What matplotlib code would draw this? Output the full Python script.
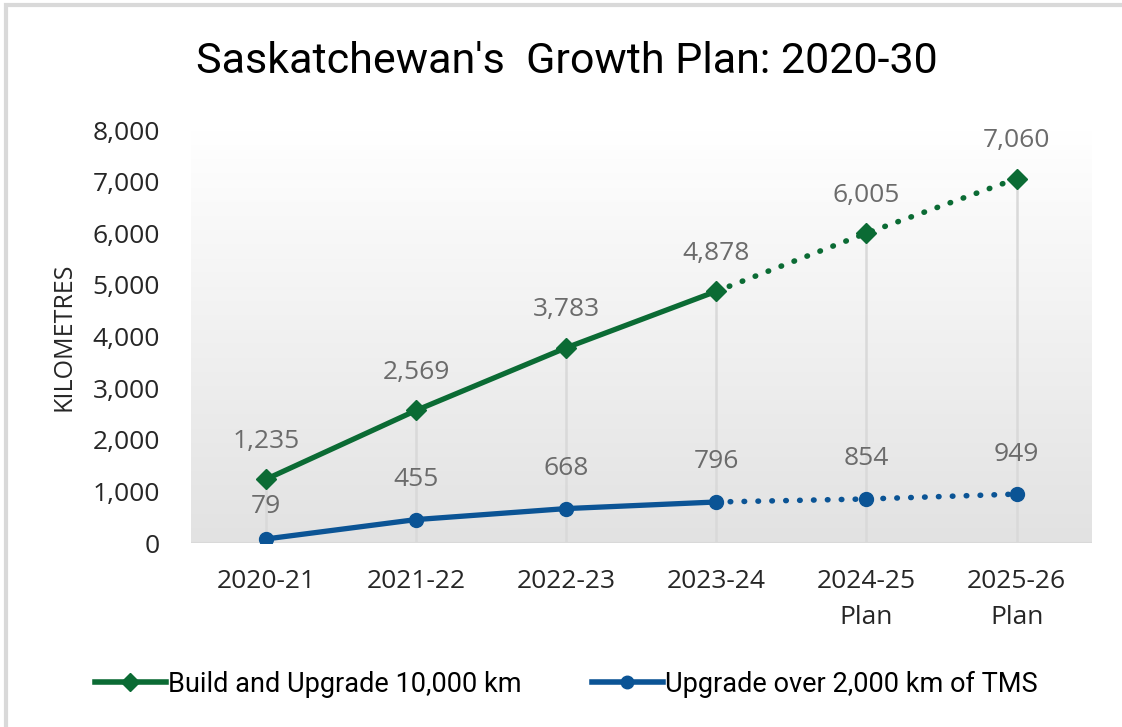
import numpy as np
import matplotlib
matplotlib.use("Agg")
import matplotlib.pyplot as plt
from matplotlib.lines import Line2D
from matplotlib.patches import Rectangle

# data
years = ["2020-21", "2021-22", "2022-23", "2023-24", "2024-25\nPlan", "2025-26\nPlan"]
build_km = [1235, 2569, 3783, 4878, 6005, 7060]
tms_km = [79, 455, 668, 796, 854, 949]
n_actual = 4  # first four are actuals, rest is plan (dotted)

green = "#0b6b34"
blue = "#0b5495"
label_grey = "#6b6b6b"

narrow = ["Roboto", "DejaVu Sans"]
body = ["Open Sans", "DejaVu Sans"]

fig = plt.figure(figsize=(11.22, 7.27), dpi=100)
ax = fig.add_axes([0.170, 0.253, 0.803, 0.568])

# outer chart border
fig.patches.append(Rectangle((0.005, -0.02), 1.1, 1.013, transform=fig.transFigure,
                             fill=False, edgecolor="#d9d9d9", linewidth=3))

x = np.arange(len(years))

# gradient plot background
grad = np.linspace(1, 0, 256).reshape(-1, 1)
ax.imshow(grad, extent=[0, 1, 0, 1], transform=ax.transAxes, aspect="auto",
          cmap=matplotlib.colors.LinearSegmentedColormap.from_list("g", ["#e2e2e2", "#ffffff"]),
          zorder=0)

# drop lines
ax.vlines(x, 0, np.maximum(build_km, tms_km), color="#d9d9d9", linewidth=1.8, zorder=1)

# solid (actual) parts
ax.plot(x[:n_actual], build_km[:n_actual], color=green, lw=3.8, marker="D", ms=10,
        solid_capstyle="round", zorder=3)
ax.plot(x[:n_actual], tms_km[:n_actual], color=blue, lw=3.8, marker="o", ms=10,
        solid_capstyle="round", zorder=3)
# dotted (plan) parts
ax.plot(x[n_actual - 1:], build_km[n_actual - 1:], color=green, lw=4, ls=(0, (0.1, 2.4)),
        dash_capstyle="round", zorder=3)
ax.plot(x[n_actual:], build_km[n_actual:], color=green, lw=0, marker="D", ms=10, zorder=4)
ax.plot(x[n_actual - 1:], tms_km[n_actual - 1:], color=blue, lw=4, ls=(0, (0.1, 2.4)),
        dash_capstyle="round", zorder=3)
ax.plot(x[n_actual:], tms_km[n_actual:], color=blue, lw=0, marker="o", ms=10, zorder=4)

# data labels
for xi, v in zip(x, build_km):
    ax.annotate(f"{v:,}", (xi, v), xytext=(0, 38), textcoords="offset pixels",
                ha="center", va="center", fontsize=19, color=label_grey, family=body)
for i, (xi, v) in enumerate(zip(x, tms_km)):
    off = 32 if i == 0 else 40
    ax.annotate(f"{v:,}", (xi, v), xytext=(0, off), textcoords="offset pixels",
                ha="center", va="center", fontsize=19, color=label_grey, family=body)

ax.set_xlim(-0.5, len(years) - 0.5)
ax.set_ylim(0, 8000)
ax.set_yticks(range(0, 8001, 1000))
ax.set_yticklabels([f"{t:,}" for t in range(0, 8001, 1000)], fontsize=19, family=body,
                   color="#262626")
ax.set_xticks(x)
ax.set_xticklabels(years, fontsize=19, family=body, linespacing=1.55, color="#262626")
ax.tick_params(length=0, pad=12)
ax.tick_params(axis="x", pad=19)
ax.tick_params(axis="y", pad=22)
for s in ax.spines.values():
    s.set_visible(False)
ax.axhline(0, color="#d9d9d9", lw=1.5, zorder=1)

ax.set_ylabel("KILOMETRES", fontsize=18, family=body, labelpad=12, color="#262626")

fig.text(0.505, 0.915, "Saskatchewan's  Growth Plan: 2020-30", ha="center", va="center",
         fontsize=31, family=narrow)

handles = [
    Line2D([], [], color=green, lw=4, marker="D", ms=9),
    Line2D([], [], color=blue, lw=4, marker="o", ms=9),
]
fig.legend(handles, ["Build and Upgrade 10,000 km", "Upgrade over 2,000 km of TMS"],
           loc="center", bbox_to_anchor=(0.505, 0.059), ncol=2, frameon=False,
           prop={"family": narrow, "size": 19.5}, handlelength=2.6, handletextpad=0.1,
           columnspacing=2.6)

fig.savefig("out.png", dpi=100)
